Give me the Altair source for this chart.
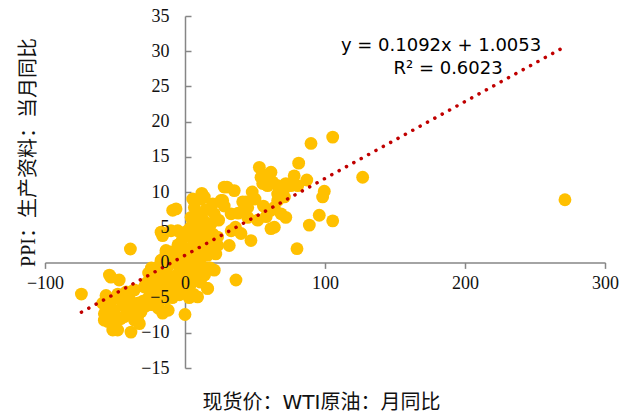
import altair as alt
import pandas as pd

# WTI crude spot price, month-over-month change (%)
wti_mom = [
    -74, -54, -52.9, -47, -56.4, -58.8, -52.9, -52.9, -57.6, -57.6,
    -55.2, -51.6, -48.1, -38.6, -35, -43.4, -41, -50.5, -33.8, -32.6,
    -31.4, -33.8, -36.2, -45, -48, -40, -46, -54, -50, -44,
    -38, -36, -42, -29, -27.9, -25.5, -24.3, -21.9, -21.9, -20.7,
    -20.7, -19.5, -17.1, -17.1, -13.6, -8.8, -39,
    -30, -28, -26, -24, -22, -20, -18, -16, -15, -14,
    -12, -12, -10, -10, -9, -8, -6, -6, -5, -4,
    -4, -3, -2, -2, -1, 0, 0, 1, 1, 2,
    3, 3, 3, 4, 4, 5, 5, 6, 6, 7,
    8, 8, 9, 10, 10, 11, 12, 12, 14, 14,
    15, 16, 16, 18, 18, 20.9, 20, 22, -26, -24,
    -19, -16, -12,
    5.5, 11.4, 12, 6.7, 4.3, 7.9, 19.8, 20.9, 18.6, 13.8,
    15, 9, 3, 13, 16, 24, 28, 26.9, 28, 30,
    35.2, 25.7, 32.9, 23.3, 23.3, 31.6, 13.8, 1.9, 6.7, -5.2,
    -6.4, -8.8, -16, -17.1, -10, -13.6, 4.3, 36.4, 16.2, 0,
    41.2, 43.6, 44.8, 44.8, 51.9, 47.1, 40, 36, 38, 33,
    61.4, 68.6, 72, 61.4, 63.8, 66.2, 63.8, 71, 66.2, 71,
    75.7, 80.5, 66.2, 61.4, 78, 87, 53.1, 60.2, 54.3, 55.5,
    62.6, 59, 72, 81.2, 90, 105.5, 126.9, 271.4, 99.5, 98.3,
    105.5, 95.9, 88.8, 80, 50, 56, 48, 58,
]

# PPI for production goods, year-over-year change (%)
ppi_yoy = [
    -4.5, -1.8, -2.1, -2.5, -4.7, -5.8, -5.6, -6.8, -7.3, -8.2,
    -8.4, -9.6, -9.6, -9.9, -7.7, -7.7, -6.8, -6.8, -7.7, -8.7,
    -7.0, -5.8, -3.9, -5.5, -4.5, -5.0, -8.0, -7.5, -8.5, -6.2,
    -6.5, -8.2, -4.2, -3.5, -3.0, -2.5, -4.4, -1.8, -5.4, -2.1,
    -5.8, -0.65, 0.3, -4.4, 1.2, 0.8, 1.9,
    -5.5, -6.2, -5.0, -6.0, -3.5, -4.8, -2.8, -3.8, -1.5, -5.2,
    -2.5, -0.5, -4.0, 1.5, -5.0, -2.0, 0.0, -3.2, 2.5, -1.2,
    -4.6, 1.0, -2.8, 3.2, -0.5, 2.0, -4.0, 0.8, -2.0, 3.8,
    -5.0, -1.0, 1.8, -3.0, 5.0, 0.0, -2.2, 2.5, -4.5, 1.0,
    3.5, -1.5, -4.9, 0.5, 4.8, -2.8, 2.0, -0.5, 3.0, -1.8,
    5.5, -3.7, 1.0, 2.5, -0.8, -1.1, 4.0, 1.2, -1.5, -0.8,
    -6.5, -7.2, -6.8,
    9.0, 9.0, 9.8, 7.8, 6.4, 6.9, 8.3, 6.9, 5.5, 9.3,
    7.5, 5.5, 4.0, 6.0, 4.0, 6.0, 8.0, 8.8, 10.7, 10.7,
    10.2, 8.8, 6.9, 3.6, 2.4, 2.4, 3.6, 4.5, 1.7, 4.5,
    7.6, 7.4, 3.8, 4.3, 4.5, 1.7, -3.0, -2.5, -3.7, -7.4,
    8.6, 8.6, 7.8, 6.4, 6.0, 3.1, 4.1, 5.0, 7.0, 4.5,
    7.4, 6.9, 6.4, 4.8, 5.0, 8.8, 7.8, 9.3, 9.7, 10.5,
    10.9, 10.9, 10.9, 12.8, 12.3, 11.7, 13.5, 12.6, 12.1, 11.2,
    11.4, 10.9, 11.2, 14.1, 16.9, 17.8, 12.1, 8.9, 10.1, 9.3,
    5.9, 6.7, 5.3, 1.95, 9.0, 8.0, 10.0, 6.5,
]

# Linear trend fitted to the series
slope = 0.1092
intercept = 1.0053
r_squared = 0.6023

x_ticks = [-100, 0, 100, 200, 300]
y_ticks = [-15, -10, -5, 0, 5, 10, 15, 20, 25, 30, 35]
x_domain = [-100, 300]
y_domain = [-15, 35]

W, H = 560, 352
AXIS_GREY = "#868686"
LABEL_FONT = "Liberation Serif"
TEXT_COLOR = "#111111"

# axes cross at the origin
x_axis_offset = -H * (0 - y_domain[0]) / (y_domain[1] - y_domain[0])
y_axis_pos = W * (0 - x_domain[0]) / (x_domain[1] - x_domain[0])

df = pd.DataFrame({"wti": wti_mom, "ppi": ppi_yoy})

x_lo, x_hi = min(wti_mom), max(wti_mom)
trend_df = pd.DataFrame({
    "wti": [x_lo, x_hi],
    "ppi": [slope * x_lo + intercept, slope * x_hi + intercept],
})

eq_df = pd.DataFrame({
    "wti": [182.9, 187.9],
    "ppi": [30.74, 27.47],
    "label": [f"y = {slope}x + {intercept}", f"R² = {r_squared}"],
})

xs = alt.Scale(domain=x_domain, nice=False, zero=False)
ys = alt.Scale(domain=y_domain, nice=False, zero=False)

# axis lines and tick marks, drawn beneath the points
points = alt.Chart(df).mark_circle(size=165, color="#FFC000", opacity=1).encode(
    x=alt.X("wti:Q", scale=xs, axis=alt.Axis(
        orient="bottom", offset=x_axis_offset, labels=False, title=None, grid=False,
        values=x_ticks, domainColor=AXIS_GREY, domainWidth=1.5,
        tickColor=AXIS_GREY, tickWidth=1.5, tickSize=6, zindex=0)),
    y=alt.Y("ppi:Q", scale=ys, axis=alt.Axis(
        orient="right", offset=-(W - y_axis_pos), labels=False, title=None, grid=False,
        values=y_ticks, domainColor=AXIS_GREY, domainWidth=1.5,
        tickColor=AXIS_GREY, tickWidth=1.5, tickSize=6, zindex=0)),
)

# dotted trend line; tick labels and titles sit on top of everything
trend = alt.Chart(trend_df).mark_line(
    color="#C00000", strokeWidth=3.5, strokeDash=[0.1, 8.3], strokeCap="round"
).encode(
    x=alt.X("wti:Q", scale=xs, axis=alt.Axis(
        orient="bottom", offset=x_axis_offset, domain=False, grid=False,
        values=x_ticks, ticks=True, tickOpacity=0, tickSize=6, labelPadding=6,
        labelFont=LABEL_FONT, labelFontSize=18, labelColor=TEXT_COLOR,
        labelOverlap=False, labelFlush=False,
        title="现货价：WTI原油：月同比", titleFont="DejaVu Sans, Noto Sans CJK SC",
        titleFontSize=20, titleFontWeight="normal", titleColor=TEXT_COLOR,
        titleX=W / 2 - 4, titleY=140, titleAlign="center", titleBaseline="middle",
        zindex=1)),
    y=alt.Y("ppi:Q", scale=ys, axis=alt.Axis(
        orient="left", offset=-y_axis_pos, domain=False, grid=False,
        values=y_ticks, ticks=True, tickOpacity=0, tickSize=6, labelPadding=10,
        labelFont=LABEL_FONT, labelFontSize=18, labelColor=TEXT_COLOR,
        labelOverlap=False, labelFlush=False,
        title="PPI：生产资料：当月同比", titleFont="Liberation Serif, Noto Sans CJK SC",
        titleFontSize=20, titleFontWeight="normal", titleColor=TEXT_COLOR,
        titleAngle=270, titleX=-(y_axis_pos + 17), titleY=136,
        titleAlign="center", titleBaseline="middle",
        zindex=1)),
)

equation = alt.Chart(eq_df).mark_text(
    font="DejaVu Sans", fontSize=18, align="center", baseline="middle", color="black"
).encode(
    x=alt.X("wti:Q", scale=xs, axis=None),
    y=alt.Y("ppi:Q", scale=ys, axis=None),
    text="label:N",
)

chart = alt.layer(points, trend, equation).resolve_axis(
    x="independent", y="independent"
).properties(
    width=W, height=H, autosize="none",
    padding={"left": 45, "top": 16, "right": 33, "bottom": 50},
    background="white",
).configure_view(stroke=None)

chart.save("out.html", embed_options={"renderer": "svg", "actions": False})
